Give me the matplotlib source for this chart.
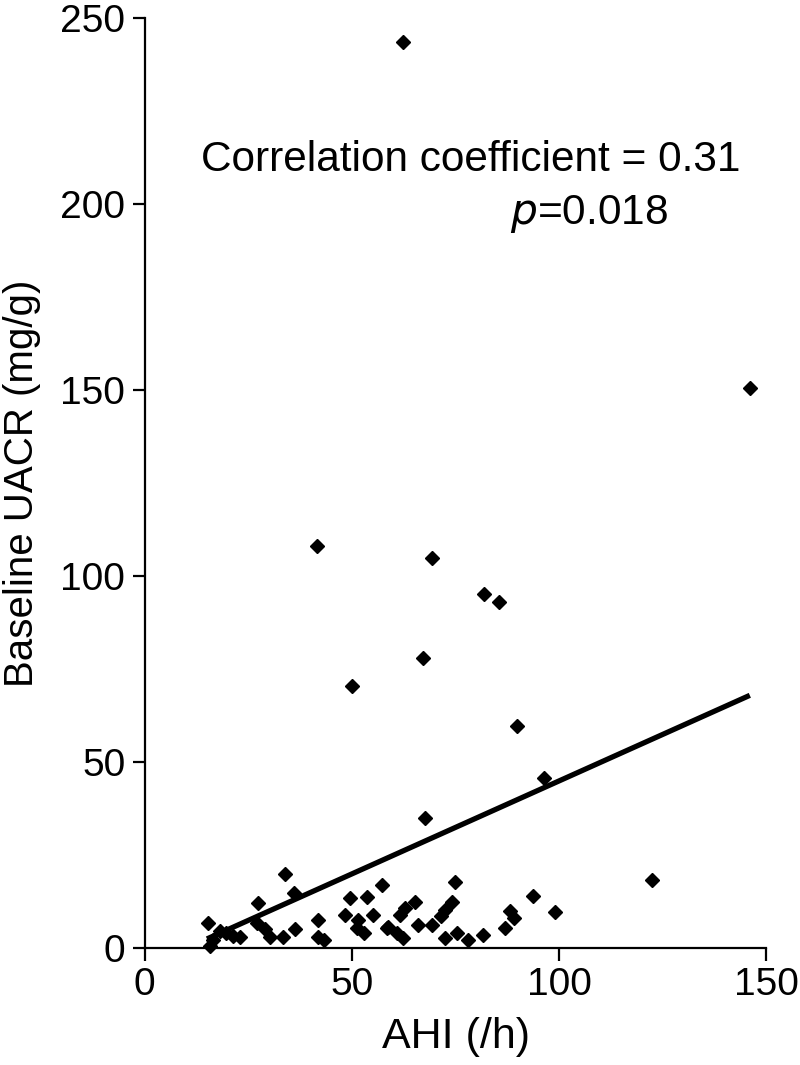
import numpy as np
import matplotlib.pyplot as plt

plt.rcParams['font.family'] = ['Liberation Sans', 'DejaVu Sans']

# AHI (/h) and baseline UACR (mg/g)
ahi = [62.3, 146.1, 41.5, 69.3, 81.9, 85.5, 67.1, 50.0, 89.9, 96.4,
       67.6, 122.5, 99.0, 93.7,
       15.3, 33.8, 27.4, 36.0, 41.9, 41.9, 43.2, 49.5, 53.5, 57.2,
       48.3, 55.1, 51.1, 58.4, 36.2, 30.2, 33.3, 23.0, 18.1, 16.5,
       15.7, 19.7, 21.3, 27.0, 29.0,
       74.9, 88.2, 89.0, 87.0, 81.7, 74.1, 72.5, 65.2, 62.8, 61.6,
       66.0, 69.2, 58.8, 60.8, 62.4, 72.5, 75.3, 78.1, 71.5, 51.5, 53.0]
uacr = [243.5, 150.5, 108.0, 104.8, 95.2, 93.0, 78.0, 70.4, 59.7, 45.7,
        35.0, 18.3, 9.7, 14.0,
        6.8, 19.8, 12.0, 14.7, 7.5, 3.0, 2.0, 13.4, 13.6, 16.9,
        8.9, 8.9, 5.3, 5.3, 5.0, 3.0, 3.0, 3.0, 4.4, 2.2,
        0.5, 4.0, 3.2, 6.6, 5.0,
        17.8, 9.8, 8.0, 5.3, 3.5, 12.4, 10.2, 12.4, 10.6, 8.9,
        6.2, 6.2, 5.7, 3.9, 2.6, 2.6, 3.9, 2.1, 8.5, 7.5, 4.0]

# regression line
fit_slope = 0.50
fit_intercept = -5.1
fit_range = [15, 146]

fig = plt.figure(figsize=(8, 10.65), dpi=100)
ax = fig.add_axes([0.181, 0.110, 0.777, 0.873])

ax.plot(ahi, uacr, 'D', color='black', markersize=7.5, clip_on=False)
fx = np.array(fit_range)
ax.plot(fx, fit_slope * fx + fit_intercept, color='black', lw=3.8,
        solid_capstyle='butt')

ax.set_xlim(0, 150)
ax.set_ylim(0, 250)
ax.set_xticks([0, 50, 100, 150])
ax.set_yticks([0, 50, 100, 150, 200, 250])
for s in ['top', 'right']:
    ax.spines[s].set_visible(False)
for s in ['left', 'bottom']:
    ax.spines[s].set_linewidth(1.6)
ax.tick_params(direction='out', length=9, width=1.6, labelsize=28, pad=5)

ax.set_xlabel('AHI (/h)', fontsize=31, labelpad=10)
ax.set_ylabel('Baseline UACR (mg/g)', fontsize=29, labelpad=14)

ax.text(0.524, 0.847, 'Correlation coefficient = 0.31', transform=ax.transAxes,
        fontsize=30.5, ha='center', va='center')
ax.text(0.715, 0.789, r'$\it{p}$=0.018', transform=ax.transAxes,
        fontsize=30.5, ha='center', va='center')

fig.savefig('out.png', dpi=100)
